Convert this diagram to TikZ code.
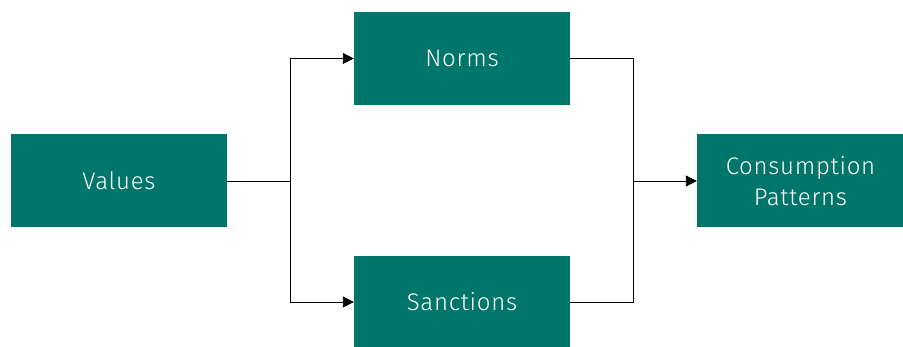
\documentclass[tikz,border=0pt]{standalone}
\usepackage{fontspec}
\setmainfont{Fira Sans Light}[LetterSpace=3]
\usetikzlibrary{arrows.meta}
\definecolor{teal}{HTML}{00766A}
\tikzset{
  box/.style={fill=teal, text=white, minimum width=216pt, minimum height=93pt,
    inner sep=0pt, align=center, font=\fontsize{24}{31}\selectfont},
  link/.style={draw=black, line width=0.9pt},
  arr/.style={link, -{Triangle[length=11pt,width=11pt]}}
}
\begin{document}
\begin{tikzpicture}[x=1pt,y=-1pt]
  \useasboundingbox (0,0) rectangle (903,347);
  \node[box] (values) at (119,181) {Values};
  \node[box] (norms) at (462,58.5) {Norms};
  \node[box, minimum height=91pt] (sanctions) at (462,302) {Sanctions};
  \node[box, minimum width=207pt] (cons) at (800.5,181) {Consumption\\Patterns};
  \coordinate (split) at (290,181);
  \coordinate (join) at (633,181);
  \draw[link] (values.east) -- (split);
  \draw[arr] (split) |- (norms.west);
  \draw[arr] (split) |- (sanctions.west);
  \draw[link] (norms.east) -| (join);
  \draw[link] (sanctions.east) -| (join);
  \draw[arr] (join) -- (cons.west);
\end{tikzpicture}
\end{document}
